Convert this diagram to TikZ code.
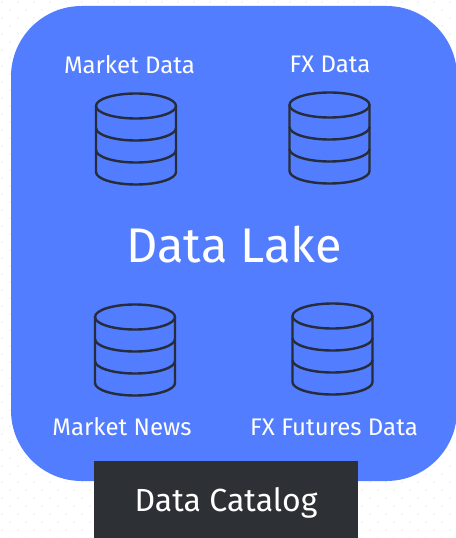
\documentclass[tikz,border=0pt]{standalone}
\usepackage{fontspec}
\setmainfont{Fira Sans}
\usetikzlibrary{positioning}
\definecolor{lakeblue}{HTML}{527DFF}
\definecolor{catalogdark}{HTML}{2D3035}
\definecolor{drumline}{HTML}{262C3A}
\definecolor{griddot}{HTML}{F0F0F0}

\begin{document}
\begin{tikzpicture}[
    x=0.75pt, y=-0.75pt,
    drum/.style={draw=drumline, line width=1.8pt, line join=round},
    label/.style={text=white, font=\fontsize{18}{22}\selectfont, inner sep=0pt}
]
    % --- 1. background ---
    \useasboundingbox (0,0) rectangle (456,538);
    \foreach \gx in {2,18,...,450}
        \foreach \gy in {2,18,...,530}
            \fill[griddot] (\gx,\gy) circle (1) (\gx+8,\gy+8) circle (1);

    % --- 2. main panel ---
    \fill[lakeblue, rounded corners=53pt] (11,6) rectangle (457,481);

    % --- 3. drums ---
    % #1: centre x, #2: top ellipse centre y
    \newcommand{\drawDrum}[2]{
        \draw[drum] (#1,#2) ellipse [x radius=40, y radius=12.5];
        \draw[drum] (#1-40,#2) -- (#1-40,#2+66) arc [start angle=180, end angle=0, x radius=40, y radius=12.5] -- (#1+40,#2);
        \draw[drum] (#1-40,#2+22) arc [start angle=180, end angle=0, x radius=40, y radius=12.5];
        \draw[drum] (#1-40,#2+44) arc [start angle=180, end angle=0, x radius=40, y radius=12.5];
    }

    \drawDrum{136}{106}
    \drawDrum{329.5}{105}
    \drawDrum{135}{317}
    \drawDrum{332.5}{316}

    % --- 4. labels ---
    \node[label] (lbl_market) at (129.5,65) {Market Data};
    \node[label] (lbl_fx) at (330,64) {FX Data};
    \node[label] (lbl_news) at (122,427) {Market News};
    \node[label] (lbl_futures) at (334,427) {FX Futures Data};
    \node[label, font=\fontsize{36.5}{42}\selectfont] (lbl_lake) at (234,245) {Data Lake};

    % --- 5. catalog box ---
    \fill[catalogdark] (94,461) rectangle (358,538);
    \node[label, font=\fontsize{24}{28}\selectfont] (lbl_catalog) at (226,503) {Data Catalog};
\end{tikzpicture}
\end{document}
